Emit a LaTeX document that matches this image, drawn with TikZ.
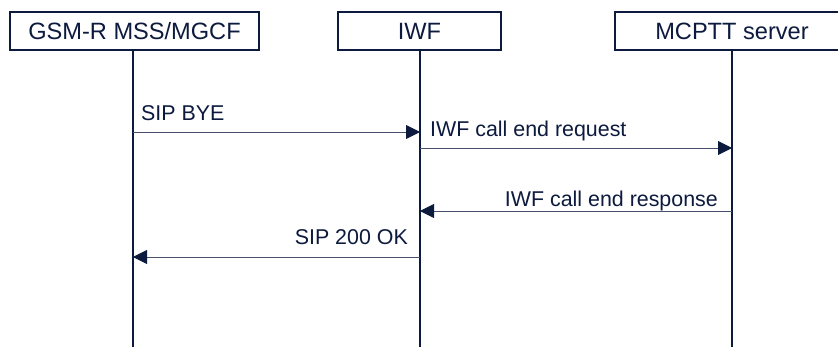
\documentclass[tikz,border=0pt]{standalone}
\usepackage{fontspec}
\setmainfont{Liberation Sans}
\usetikzlibrary{arrows.meta}
\definecolor{navy}{RGB}{12,26,62}
\definecolor{msgline}{RGB}{70,80,110}
\begin{document}
\begin{tikzpicture}[x=1pt,y=-1pt,
  headbox/.style={draw=navy,line width=1.8pt,fill=white,text=navy,inner sep=0pt,
    minimum height=38pt,font=\fontsize{23.6}{26}\selectfont},
  lifeline/.style={draw=navy,line width=1.8pt},
  msg/.style={draw=msgline,line width=0.9pt,-{Triangle[length=14pt,width=14pt,fill=navy,color=navy]}},
  msglabel/.style={text=navy,inner sep=0pt,font=\fontsize{21.4}{24}\selectfont}]
\useasboundingbox (0,0) rectangle (838,347);
\clip (0,0) rectangle (838,347);
\fill[white] (0,0) rectangle (838,347);
% heads
\node[headbox,minimum width=249pt] (gsm) at (134.5,31) {GSM-R MSS/MGCF};
\node[headbox,minimum width=163pt] (iwf) at (419.5,31) {IWF};
\node[headbox,minimum width=234pt] (mcp) at (732,31) {MCPTT server};
% lifeline ends
\coordinate (gsmE) at (133,347);
\coordinate (iwfE) at (420,347);
\coordinate (mcpE) at (732,347);
\draw[lifeline] (gsm.south -| gsmE) -- (gsmE);
\draw[lifeline] (iwf.south -| iwfE) -- (iwfE);
\draw[lifeline] (mcp.south -| mcpE) -- (mcpE);
% message points
\coordinate (g1) at (133,132);
\coordinate (i1) at (420,132);
\coordinate (i2) at (420,148);
\coordinate (m2) at (732,148);
\coordinate (m3) at (732,211);
\coordinate (i3) at (420,211);
\coordinate (i4) at (420,257);
\coordinate (g4) at (133,257);
\draw[msg] (g1) -- (i1);
\draw[msg] (i2) -- (m2);
\draw[msg] (m3) -- (i3);
\draw[msg] (i4) -- (g4);
% labels
\node[msglabel,anchor=base west] (l1) at (141,121) {SIP BYE};
\node[msglabel,anchor=base west] (l2) at (430,137) {IWF call end request};
\node[msglabel,anchor=base east] (l3) at (718,207) {IWF call end response};
\node[msglabel,anchor=base east] (l4) at (408,245) {SIP 200 OK};
\end{tikzpicture}
\end{document}
